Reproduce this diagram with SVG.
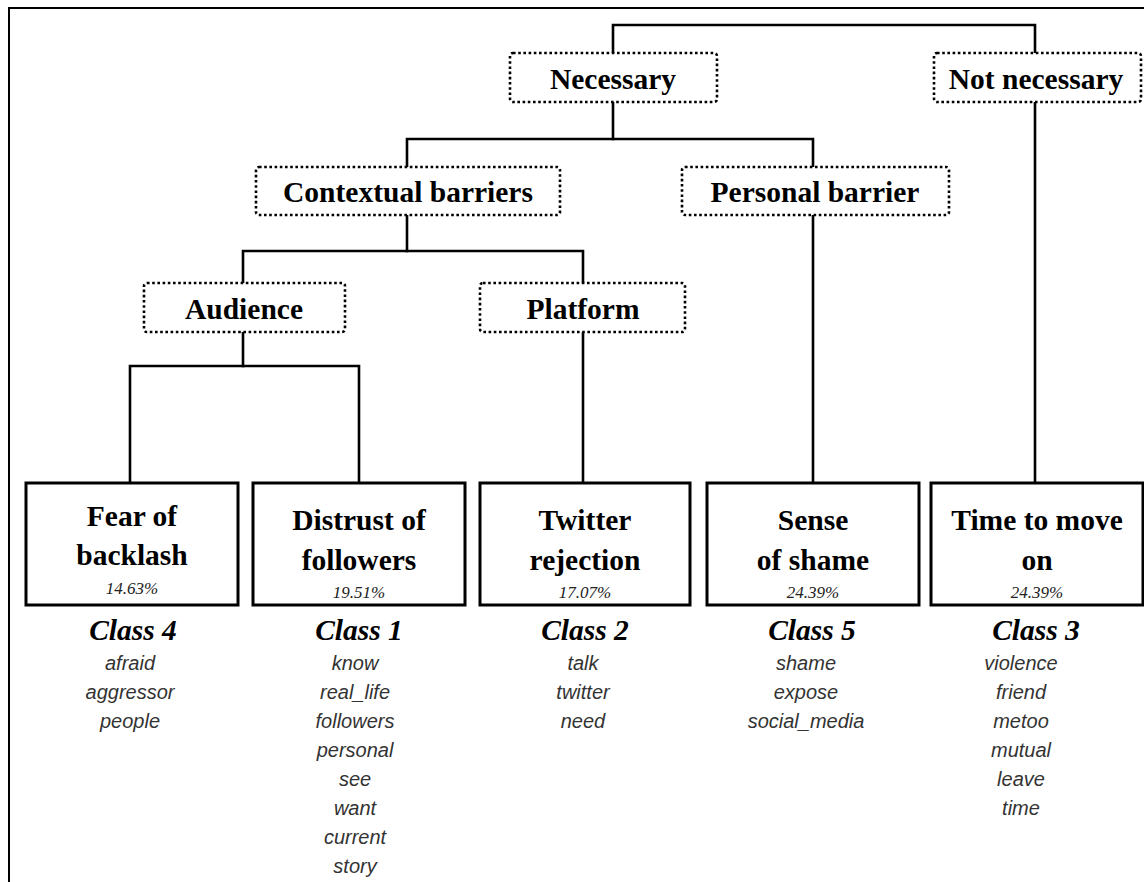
<svg xmlns="http://www.w3.org/2000/svg" width="1144" height="882" viewBox="0 0 1144 882">
<style>
.frame{fill:none;stroke:#000;stroke-width:2}
.conn{fill:none;stroke:#000;stroke-width:2.6;stroke-linecap:square}
.dot{fill:#fff;stroke:#000;stroke-width:2.6;stroke-dasharray:2.6 2.6}
.box{fill:#fff;stroke:#000;stroke-width:3}
.lbl{font-family:"Liberation Serif","Times New Roman",serif;font-weight:bold;font-size:29.5px;text-anchor:middle;fill:#000}
.pct{font-family:"Liberation Serif","Times New Roman",serif;font-style:italic;font-size:17px;text-anchor:middle;fill:#222}
.cls{font-family:"Liberation Serif","Times New Roman",serif;font-style:italic;font-weight:bold;font-size:29.5px;text-anchor:middle;fill:#000}
.wd{font-family:"Liberation Sans",Arial,sans-serif;font-style:italic;font-size:20px;text-anchor:middle;fill:#333}
</style>
<rect width="1144" height="882" fill="#fff"/>
<path class="frame" d="M9,882 V8 H1144"/>
<g id="connectors">
<path class="conn" d="M613,53 V25 H1035 V53"/>
<path class="conn" d="M613,102 V139"/>
<path class="conn" d="M407,167 V139 H813 V167"/>
<path class="conn" d="M1035,102 V483"/>
<path class="conn" d="M813,215 V483"/>
<path class="conn" d="M407,215 V251"/>
<path class="conn" d="M243,283 V251 H583 V283"/>
<path class="conn" d="M583,332 V483"/>
<path class="conn" d="M243,332 V366"/>
<path class="conn" d="M130,483 V366 H359 V483"/>
</g>
<g id="necessary"><rect class="dot" x="510" y="53" width="207" height="49" rx="3"/><text class="lbl" x="613" y="89">Necessary</text></g>
<g id="not-necessary"><rect class="dot" x="934" y="53" width="207" height="49" rx="3"/><text class="lbl" x="1036" y="89">Not necessary</text></g>
<g id="contextual"><rect class="dot" x="256" y="167" width="304" height="48" rx="3"/><text class="lbl" x="408" y="202">Contextual barriers</text></g>
<g id="personal"><rect class="dot" x="682" y="167" width="267" height="48" rx="3"/><text class="lbl" x="815" y="202">Personal barrier</text></g>
<g id="audience"><rect class="dot" x="144" y="283" width="201" height="49" rx="3"/><text class="lbl" x="244" y="319">Audience</text></g>
<g id="platform"><rect class="dot" x="480" y="283" width="205" height="49" rx="3"/><text class="lbl" x="583" y="319">Platform</text></g>
<g id="class4">
<rect class="box" x="26" y="483" width="212" height="122"/>
<text class="lbl" x="132" y="526">Fear of</text><text class="lbl" x="132" y="565">backlash</text>
<text class="pct" x="132" y="594">14.63%</text>
<text class="cls" x="133" y="640">Class 4</text>
<text class="wd" x="130" y="670">afraid</text><text class="wd" x="130" y="699">aggressor</text><text class="wd" x="130" y="728">people</text>
</g>
<g id="class1">
<rect class="box" x="253" y="483" width="212" height="122"/>
<text class="lbl" x="359" y="530">Distrust of</text><text class="lbl" x="359" y="570">followers</text>
<text class="pct" x="359" y="598">19.51%</text>
<text class="cls" x="359" y="640">Class 1</text>
<text class="wd" x="355" y="670">know</text><text class="wd" x="355" y="699">real_life</text><text class="wd" x="355" y="728">followers</text><text class="wd" x="355" y="757">personal</text><text class="wd" x="355" y="786">see</text><text class="wd" x="355" y="815">want</text><text class="wd" x="355" y="844">current</text><text class="wd" x="355" y="873">story</text>
</g>
<g id="class2">
<rect class="box" x="480" y="483" width="210" height="122"/>
<text class="lbl" x="585" y="530">Twitter</text><text class="lbl" x="585" y="570">rejection</text>
<text class="pct" x="585" y="598">17.07%</text>
<text class="cls" x="585" y="640">Class 2</text>
<text class="wd" x="583" y="670">talk</text><text class="wd" x="583" y="699">twitter</text><text class="wd" x="583" y="728">need</text>
</g>
<g id="class5">
<rect class="box" x="707" y="483" width="212" height="122"/>
<text class="lbl" x="813" y="530">Sense</text><text class="lbl" x="813" y="570">of shame</text>
<text class="pct" x="813" y="598">24.39%</text>
<text class="cls" x="812" y="640">Class 5</text>
<text class="wd" x="806" y="670">shame</text><text class="wd" x="806" y="699">expose</text><text class="wd" x="806" y="728">social_media</text>
</g>
<g id="class3">
<rect class="box" x="931" y="483" width="212" height="122"/>
<text class="lbl" x="1037" y="530">Time to move</text><text class="lbl" x="1037" y="570">on</text>
<text class="pct" x="1037" y="598">24.39%</text>
<text class="cls" x="1036" y="640">Class 3</text>
<text class="wd" x="1021" y="670">violence</text><text class="wd" x="1021" y="699">friend</text><text class="wd" x="1021" y="728">metoo</text><text class="wd" x="1021" y="757">mutual</text><text class="wd" x="1021" y="786">leave</text><text class="wd" x="1021" y="815">time</text>
</g>
</svg>
